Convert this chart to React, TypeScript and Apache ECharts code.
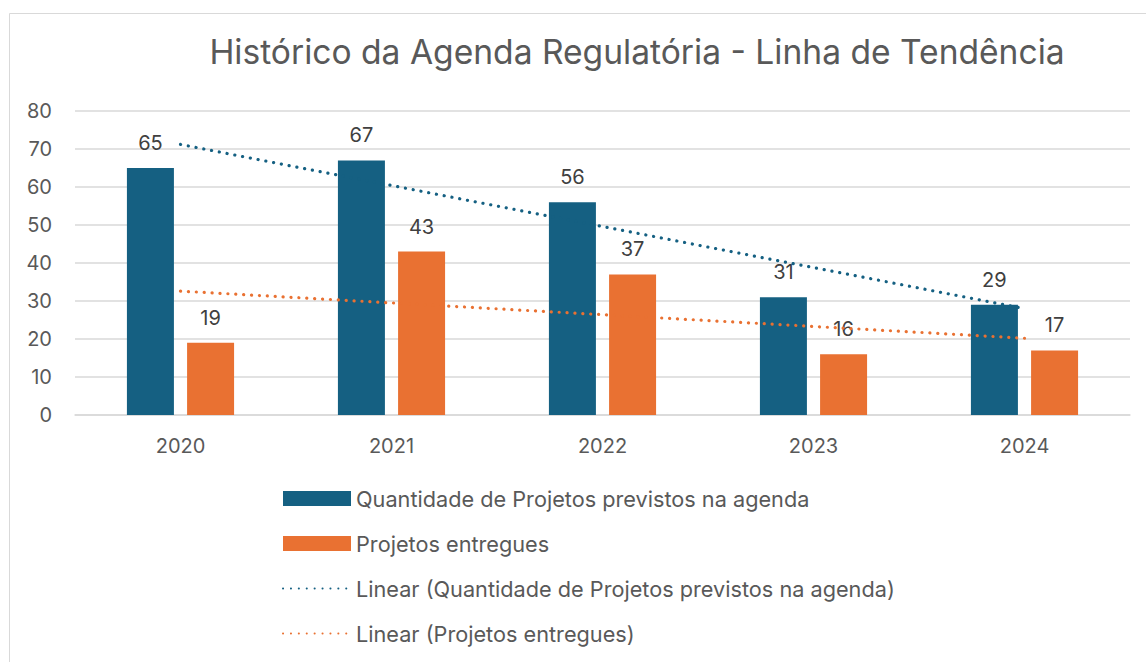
import React, { useEffect, useRef } from "react";
import * as echarts from "echarts";

const titleText = "Histórico da Agenda Regulatória - Linha de Tendência";
const categories = ["2020", "2021", "2022", "2023", "2024"];
const seriesPrevistos = [65, 67, 56, 31, 29];
const seriesEntregues = [19, 43, 37, 16, 17];
const namePrevistos = "Quantidade de Projetos previstos na agenda";
const nameEntregues = "Projetos entregues";
const nameTrendPrevistos = "Linear (Quantidade de Projetos previstos na agenda)";
const nameTrendEntregues = "Linear (Projetos entregues)";

function linearTrend(values: number[]): number[] {
  const n = values.length;
  const xs = values.map((_, i) => i + 1);
  const mx = xs.reduce((a, b) => a + b, 0) / n;
  const my = values.reduce((a, b) => a + b, 0) / n;
  let num = 0;
  let den = 0;
  for (let i = 0; i < n; i++) {
    num += (xs[i] - mx) * (values[i] - my);
    den += (xs[i] - mx) * (xs[i] - mx);
  }
  const slope = num / den;
  return xs.map((x) => +(my + slope * (x - mx)).toFixed(3));
}

const BLUE = "#156082";
const ORANGE = "#E97132";
const FONT = "Inter, 'Liberation Sans', Arial, sans-serif";

export default function App() {
  const ref = useRef<HTMLDivElement>(null);
  useEffect(() => {
    document.body.style.margin = "0";
    const chart = echarts.init(ref.current!, null, { renderer: "svg" });
    const labelStyle = {
      show: true,
      position: "top" as const,
      distance: 15,
      color: "#404040",
      fontSize: 20,
      fontFamily: FONT,
    };
    chart.setOption({
      animation: false,
      backgroundColor: "#ffffff",
      textStyle: { fontFamily: FONT },
      title: {
        text: titleText,
        left: 632,
        textAlign: "center",
        top: 29,
        textStyle: { color: "#595959", fontSize: 33.6, fontWeight: "normal", fontFamily: FONT },
      },
      graphic: [
        {
          type: "rect",
          shape: { x: 9.5, y: 13.5, width: 1200, height: 700 },
          style: { fill: "none", stroke: "#D9D9D9", lineWidth: 1 },
          silent: true,
        },
      ],
      legend: {
        orient: "vertical",
        left: 277,
        top: 482,
        itemWidth: 68,
        itemHeight: 15,
        itemGap: 22,
        textStyle: { color: "#595959", fontSize: 21.7, lineHeight: 23, fontFamily: FONT },
        data: [
          { name: namePrevistos, icon: "rect" },
          { name: nameEntregues, icon: "rect" },
          { name: nameTrendPrevistos, itemStyle: { opacity: 0 } },
          { name: nameTrendEntregues, itemStyle: { opacity: 0 } },
        ],
      },
      grid: { left: 75, right: 16, top: 111, bottom: 247, containLabel: false },
      xAxis: {
        type: "category",
        data: categories,
        axisLine: { show: true, lineStyle: { color: "#D9D9D9", width: 1.5 } },
        axisTick: { show: false },
        axisLabel: { color: "#595959", fontSize: 20, margin: 21, fontFamily: FONT },
      },
      yAxis: {
        type: "value",
        min: 0,
        max: 80,
        interval: 10,
        axisLine: { show: false },
        axisTick: { show: false },
        splitLine: { lineStyle: { color: "#D9D9D9", width: 1.5 } },
        axisLabel: { color: "#595959", fontSize: 20, margin: 23, fontFamily: FONT },
      },
      series: [
        {
          name: namePrevistos,
          type: "bar",
          data: seriesPrevistos,
          barWidth: 47,
          barGap: "28%",
          itemStyle: { color: BLUE },
          label: labelStyle,
        },
        {
          name: nameEntregues,
          type: "bar",
          data: seriesEntregues,
          barWidth: 47,
          barGap: "28%",
          itemStyle: { color: ORANGE },
          label: labelStyle,
        },
        {
          name: nameTrendPrevistos,
          type: "line",
          data: linearTrend(seriesPrevistos),
          symbol: "none",
          z: 5,
          itemStyle: { color: BLUE },
          lineStyle: { color: BLUE, width: 3.2, type: [0.1, 7.8], cap: "round" },
        },
        {
          name: nameTrendEntregues,
          type: "line",
          data: linearTrend(seriesEntregues),
          symbol: "none",
          z: 5,
          itemStyle: { color: ORANGE },
          lineStyle: { color: ORANGE, width: 3.2, type: [0.1, 7.8], cap: "round" },
        },
      ],
    });
    return () => chart.dispose();
  }, []);
  return <div ref={ref} style={{ width: 1146, height: 662 }} />;
}
